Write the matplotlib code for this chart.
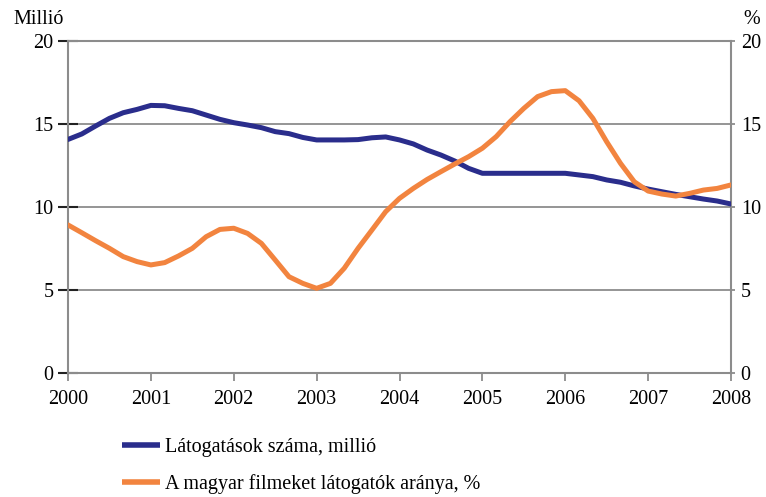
import matplotlib
matplotlib.use("Agg")
import matplotlib.pyplot as plt

# Readings every two months, 2000.00 .. 2008.00
years = [2000 + i / 6 for i in range(49)]
latogatasok = [14.07, 14.4, 14.88, 15.34, 15.68, 15.88, 16.12, 16.1, 15.94, 15.8,
               15.54, 15.28, 15.08, 14.94, 14.78, 14.54, 14.42, 14.19, 14.04, 14.04,
               14.04, 14.06, 14.17, 14.22, 14.04, 13.8, 13.43, 13.13, 12.77, 12.33,
               12.03, 12.03, 12.03, 12.03, 12.03, 12.03, 12.03, 11.93, 11.83, 11.63,
               11.49, 11.27, 11.08, 10.92, 10.76, 10.62, 10.48, 10.36, 10.18]
magyar_arany = [8.92, 8.45, 7.97, 7.51, 7.01, 6.71, 6.51, 6.65, 7.05, 7.51,
                8.21, 8.65, 8.72, 8.41, 7.81, 6.81, 5.8, 5.4, 5.1, 5.4,
                6.31, 7.51, 8.61, 9.72, 10.52, 11.12, 11.66, 12.13, 12.59, 13.03,
                13.54, 14.24, 15.14, 15.94, 16.65, 16.95, 17.01, 16.4, 15.34, 13.93,
                12.63, 11.52, 10.96, 10.78, 10.66, 10.82, 11.02, 11.12, 11.33]
year_ticks = list(range(2000, 2009))
y_ticks = [0, 5, 10, 15, 20]
label1 = "Látogatások száma, millió"
label2 = "A magyar filmeket látogatók aránya, %"

plt.rcParams['font.family'] = ['Liberation Serif', 'DejaVu Serif']
FS = 14.5

fig = plt.figure(figsize=(7.66, 4.97), dpi=100)
ax = fig.add_axes([68/766, 1 - 373/497, (731-68)/766, (373-41)/497])

blue = "#2A2D8C"
orange = "#F2843F"
grey = "#8C8C8C"

ax.set_xlim(2000, 2008)
ax.set_ylim(0, 20)
for v in [5, 10, 15]:
    ax.axhline(v, color=grey, lw=1.3, zorder=1)

l1, = ax.plot(years, latogatasok, color=blue, lw=3.6, solid_capstyle='round',
              solid_joinstyle='round', zorder=3, label=label1)
l2, = ax.plot(years, magyar_arany, color=orange, lw=3.6, solid_capstyle='round',
              solid_joinstyle='round', zorder=3, label=label2)

for s in ax.spines.values():
    s.set_color(grey)
    s.set_linewidth(1.5)

ax.set_xticks(year_ticks)
ax.set_xticklabels([str(y) for y in year_ticks], fontsize=FS)
ax.set_yticks(y_ticks)
ax.set_yticklabels([str(v) for v in y_ticks], fontsize=FS)
ax.tick_params(axis='x', direction='out', length=6, width=1.3, color=grey, pad=6)
ax.tick_params(axis='y', direction='inout', length=15, width=1.5, color='#222222', pad=3)

ax2 = ax.twinx()
ax2.set_ylim(0, 20)
ax2.set_yticks(y_ticks)
ax2.set_yticklabels([str(v) for v in y_ticks], fontsize=FS)
ax2.tick_params(axis='y', length=3, width=1.3, color=grey, pad=4)
for s in ax2.spines.values():
    s.set_visible(False)

fig.text(13/766, 1 - 20/497, "Millió", fontsize=FS, va='center', ha='left')
fig.text(752/766, 1 - 20/497, "%", fontsize=FS, va='center', ha='center')

leg = fig.legend(handles=[l1, l2], loc='upper left', bbox_to_anchor=(122/766, 1 - 438/497),
                 frameon=False, fontsize=FS, handlelength=1.9, handletextpad=0.25,
                 labelspacing=0.85, borderpad=0, borderaxespad=0)
for h in leg.get_lines():
    h.set_linewidth(4)
    h.set_solid_capstyle('butt')

fig.savefig("out.png", dpi=100)
